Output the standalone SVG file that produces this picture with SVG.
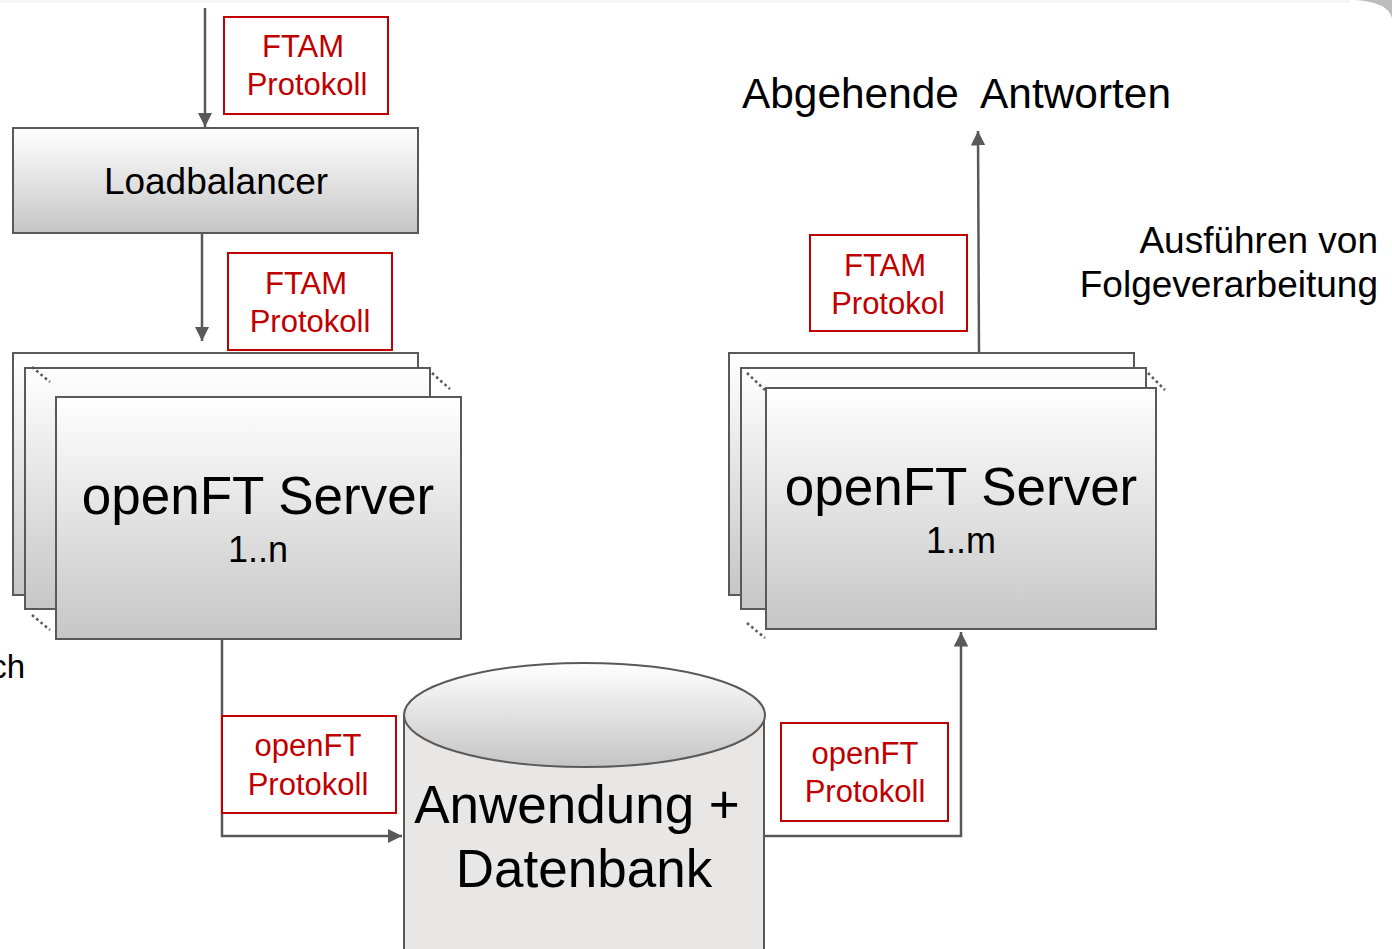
<svg xmlns="http://www.w3.org/2000/svg" width="1392" height="949" viewBox="0 0 1392 949">
<defs>
<linearGradient id="g" x1="0" y1="0" x2="0" y2="1"><stop offset="0" stop-color="#ffffff"/><stop offset="1" stop-color="#c6c6c6"/></linearGradient>
<linearGradient id="ge" x1="0" y1="0" x2="0" y2="1"><stop offset="0" stop-color="#ffffff"/><stop offset="1" stop-color="#c4c4c4"/></linearGradient>
<marker id="ah" viewBox="0 0 10 10" refX="10" refY="5" markerWidth="5.8" markerHeight="5.8" markerUnits="strokeWidth" orient="auto"><path d="M0,0 L10,5 L0,10 Z" fill="#595959"/></marker>
<style>
.box{fill:url(#g);stroke:#595959;stroke-width:2}
.dot{stroke:#595959;stroke-width:2.6;stroke-dasharray:2.6 3;fill:none}
.con{stroke:#595959;stroke-width:2.5;fill:none;marker-end:url(#ah)}
.lbl{fill:#ffffff;stroke:#c00000;stroke-width:2}
.rt{font-family:"Liberation Sans",Arial,sans-serif;font-size:31px;fill:#c00000;text-anchor:middle}
.bt{font-family:"Liberation Sans",Arial,sans-serif;fill:#000000}
</style>
</defs>
<rect width="1392" height="949" fill="#ffffff"/>
<path d="M1355,0 Q1388,2 1392,18 L1392,0 Z" fill="#bdbdbd"/>
<line x1="0" y1="1.5" x2="1350" y2="1.5" stroke="#f3f3f3" stroke-width="2"/>

<g id="connectors">
<line class="con" x1="205" y1="8" x2="205" y2="127"/>
<line class="con" x1="202" y1="234" x2="202" y2="341"/>
<polyline class="con" points="222,639 222,836 402,836"/>
<polyline class="con" points="765,836 961,836 961,632"/>
<line class="con" x1="979" y1="352" x2="978" y2="131"/>
</g>

<g id="label-ftam-1">
<rect class="lbl" x="224" y="17" width="164" height="97"/>
<text class="rt" x="303" y="57">FTAM</text>
<text class="rt" x="307" y="95">Protokoll</text>
</g>

<g id="loadbalancer">
<rect class="box" x="13" y="128" width="405" height="105"/>
<text class="bt" x="216" y="194" font-size="37" text-anchor="middle">Loadbalancer</text>
</g>

<g id="label-ftam-2">
<rect class="lbl" x="228" y="253" width="164" height="97"/>
<text class="rt" x="306" y="294">FTAM</text>
<text class="rt" x="310" y="332">Protokoll</text>
</g>

<g id="servers-left">
<rect class="box" x="13" y="353" width="405" height="242"/>
<rect class="box" x="25" y="368" width="405" height="241"/>
<line class="dot" x1="32" y1="367" x2="50" y2="382"/>
<line class="dot" x1="432" y1="373" x2="450" y2="389"/>
<line class="dot" x1="32" y1="615" x2="50" y2="630"/>
<rect class="box" x="56" y="397" width="405" height="242"/>
<text class="bt" x="258" y="514" font-size="53" text-anchor="middle">openFT Server</text>
<text class="bt" x="258" y="562" font-size="36" text-anchor="middle">1..n</text>
</g>

<g id="text-ch">
<text class="bt" x="25" y="678" font-size="33" text-anchor="end">ch</text>
</g>

<g id="datenbank">
<rect x="404" y="715" width="360" height="250" fill="#e8e7e6" stroke="#595959" stroke-width="2"/>
<ellipse cx="584.5" cy="715" rx="180.5" ry="52" fill="url(#ge)" stroke="#595959" stroke-width="2"/>
<text class="bt" x="577" y="823" font-size="53" text-anchor="middle">Anwendung +</text>
<text class="bt" x="584" y="887" font-size="53" text-anchor="middle">Datenbank</text>
</g>

<g id="label-openft-1">
<rect class="lbl" x="222" y="716" width="174" height="97"/>
<text class="rt" x="308" y="756">openFT</text>
<text class="rt" x="308" y="795">Protokoll</text>
</g>

<g id="label-openft-2">
<rect class="lbl" x="781" y="723" width="167" height="98"/>
<text class="rt" x="865" y="764">openFT</text>
<text class="rt" x="865" y="802">Protokoll</text>
</g>

<g id="servers-right">
<rect class="box" x="729" y="353" width="405" height="242"/>
<rect class="box" x="741" y="368" width="405" height="241"/>
<line class="dot" x1="747" y1="373" x2="765" y2="390"/>
<line class="dot" x1="1148" y1="373" x2="1165" y2="390"/>
<line class="dot" x1="747" y1="623" x2="765" y2="638"/>
<rect class="box" x="766" y="388" width="390" height="241"/>
<text class="bt" x="961" y="505" font-size="53" text-anchor="middle">openFT Server</text>
<text class="bt" x="961" y="553" font-size="36" text-anchor="middle">1..m</text>
</g>

<g id="label-ftam-3">
<rect class="lbl" x="810" y="235" width="157" height="96"/>
<text class="rt" x="885" y="276">FTAM</text>
<text class="rt" x="888" y="314">Protokol</text>
</g>

<g id="text-abgehende">
<text class="bt" x="742" y="108" font-size="42.4" xml:space="preserve">Abgehende  Antworten</text>
</g>

<g id="text-folge">
<text class="bt" x="1378" y="253" font-size="37" text-anchor="end">Ausführen von</text>
<text class="bt" x="1378" y="297" font-size="37" text-anchor="end">Folgeverarbeitung</text>
</g>
</svg>
